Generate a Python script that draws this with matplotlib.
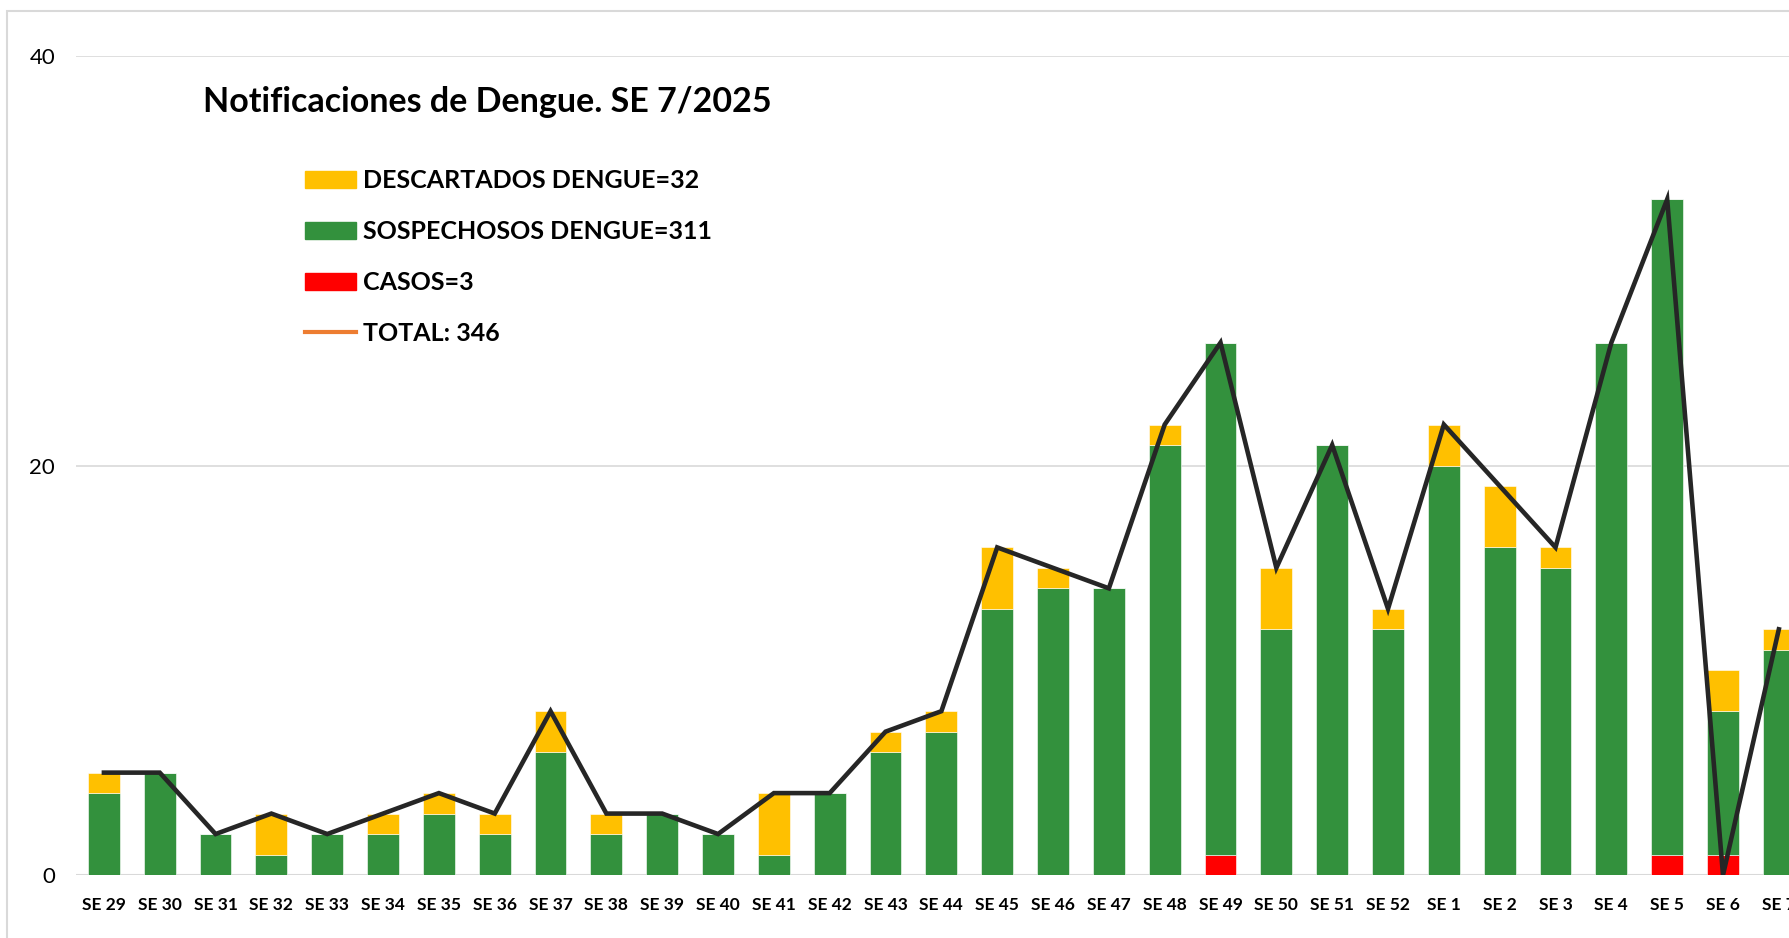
import matplotlib
matplotlib.use("Agg")
from matplotlib import pyplot as plt
from matplotlib.patches import Patch, Rectangle
from matplotlib.lines import Line2D
import numpy as np


weeks = ['SE 29', 'SE 30', 'SE 31', 'SE 32', 'SE 33', 'SE 34', 'SE 35', 'SE 36',
         'SE 37', 'SE 38', 'SE 39', 'SE 40', 'SE 41', 'SE 42', 'SE 43', 'SE 44',
         'SE 45', 'SE 46', 'SE 47', 'SE 48', 'SE 49', 'SE 50', 'SE 51', 'SE 52',
         'SE 1', 'SE 2', 'SE 3', 'SE 4', 'SE 5', 'SE 6', 'SE 7']
casos = [0, 0, 0, 0, 0, 0, 0, 0, 0, 0, 0, 0, 0, 0, 0, 0,
         0, 0, 0, 0, 1, 0, 0, 0, 0, 0, 0, 0, 1, 1, 0]
sospechosos = [4, 5, 2, 1, 2, 2, 3, 2, 6, 2, 3, 2, 1, 4, 6, 7,
               13, 14, 14, 21, 25, 12, 21, 12, 20, 16, 15, 26, 32, 7, 11]
descartados = [1, 0, 0, 2, 0, 1, 1, 1, 2, 1, 0, 0, 3, 0, 1, 1,
               3, 1, 0, 1, 0, 3, 0, 1, 2, 3, 1, 0, 0, 2, 1]
# the total line as drawn (SE 6 drops to 0 in the source)
total = [5, 5, 2, 3, 2, 3, 4, 3, 8, 3, 3, 2, 4, 4, 7, 8,
         16, 15, 14, 22, 26, 15, 21, 13, 22, 19, 16, 26, 33, 0, 12]

YELLOW = '#FFC000'
GREEN = '#33913D'
RED = '#FF0000'
GRID = '#D9D9D9'

W, H, DPI = 1790, 938, 100
fig = plt.figure(figsize=(W / DPI, H / DPI), dpi=DPI)
ax = fig.add_axes([76 / W, 1 - 875 / H, 1 - 76 / W, (875 - 56) / H])

x = np.arange(len(weeks))
c = np.array(casos)
s = np.array(sospechosos)
d = np.array(descartados)
bw = 0.57
ax.bar(x, c, bw, color=RED, edgecolor='white', linewidth=0.4, zorder=2)
ax.bar(x, s, bw, bottom=c, color=GREEN, edgecolor='white', linewidth=0.4, zorder=2)
ax.bar(x, d, bw, bottom=c + s, color=YELLOW, edgecolor='white', linewidth=0.4, zorder=2)
ax.plot(x, total, color='#262626', lw=3.3, zorder=3, solid_joinstyle='miter')

ax.set_xlim(-0.5, 30.2)
ax.set_ylim(0, 40)
ax.set_yticks([0, 20, 40])
ax.grid(axis='y', color=GRID, lw=1.2, zorder=0)
ax.axhline(0, color=GRID, lw=2.2, zorder=1)
for sp in ax.spines.values():
    sp.set_visible(False)
ax.set_xticks(x)
ax.set_xticklabels(weeks, fontfamily='Lato', fontweight='bold', fontsize=12.5)
ax.tick_params(axis='x', length=0, pad=16)
ax.tick_params(axis='y', length=0, pad=15, labelsize=16)
for t in ax.get_yticklabels():
    t.set_fontfamily('Lato')

fig.text(203 / W, 1 - 101.5 / H, 'Notificaciones de Dengue. SE 7/2025',
         fontfamily='Lato', fontweight='bold', fontsize=24.5, va='center', ha='left')

handles = [Patch(color=YELLOW), Patch(color=GREEN), Patch(color=RED),
           Line2D([0], [0], color='#ED7D31', lw=3)]
labels = ['DESCARTADOS DENGUE=32', 'SOSPECHOSOS DENGUE=311', 'CASOS=3', 'TOTAL: 346']
fig.legend(handles, labels, loc='upper left', bbox_to_anchor=(305 / W, 1 - 169.5 / H),
           frameon=False, borderpad=0, borderaxespad=0, handlelength=2.05,
           handleheight=0.65, handletextpad=0.28, labelspacing=1.11,
           prop={'family': 'Lato', 'weight': 'bold', 'size': 18})

# chart area frame (only top/left visible in the crop)
fig.add_artist(Rectangle((7.5 / W, -0.1), 1.2, 1.1 - 11 / H, transform=fig.transFigure,
                         fill=False, edgecolor=GRID, lw=1.5))

fig.savefig('out.png', dpi=DPI)
